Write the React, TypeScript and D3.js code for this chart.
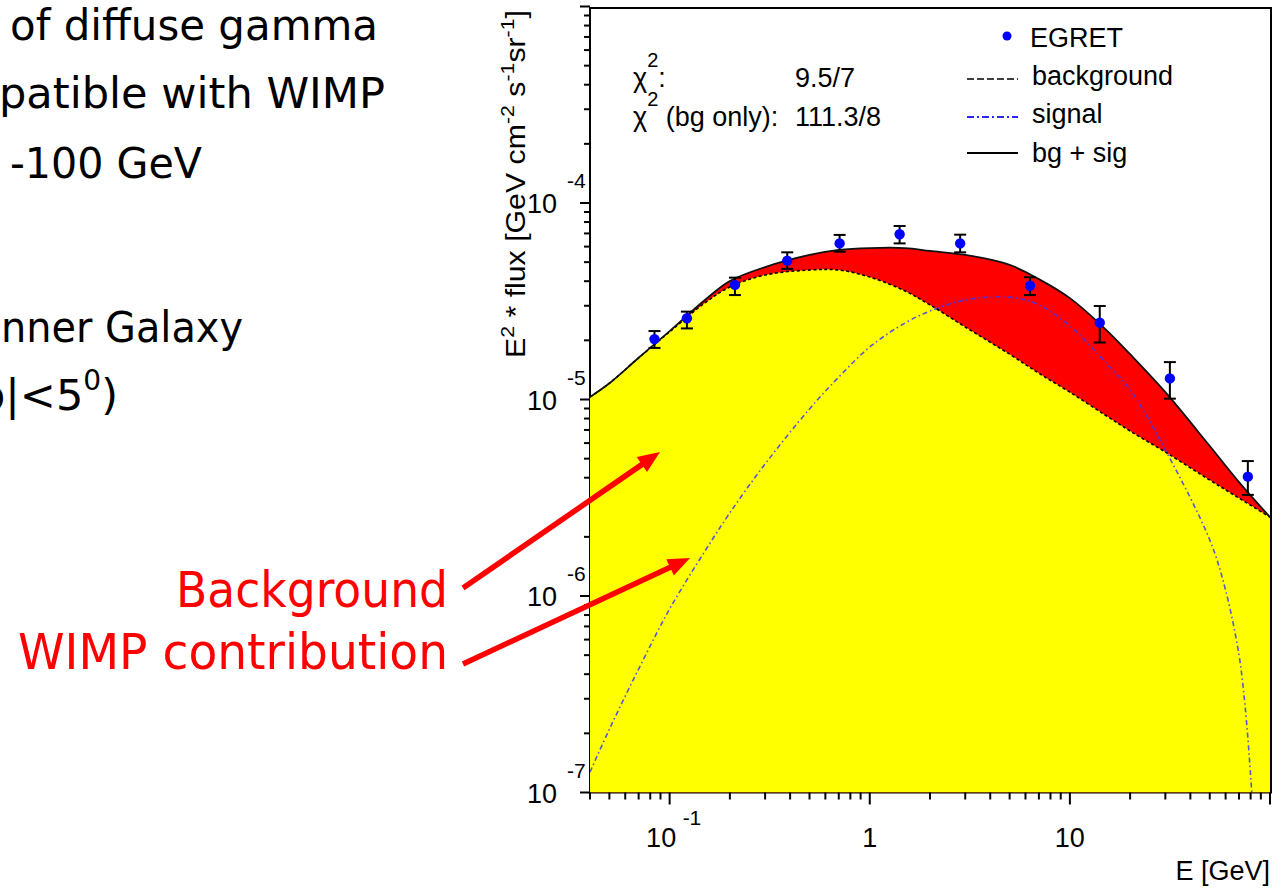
import * as d3 from "d3";
import React from "react";

const W = 1281;
const H = 888;

// EGRET points: E [GeV], E^2*flux [GeV cm^-2 s^-1 sr^-1], error bar ends
const egretE = [0.084, 0.122, 0.212, 0.387, 0.707, 1.41, 2.83, 6.32, 14.1, 31.6, 77.5];
const egretFlux = [2.03e-5, 2.59e-5, 3.83e-5, 5.09e-5, 6.23e-5, 6.93e-5, 6.23e-5, 3.79e-5, 2.46e-5, 1.28e-5, 4.05e-6];
const egretLo = [1.83e-5, 2.3e-5, 3.4e-5, 4.62e-5, 5.65e-5, 6.23e-5, 5.61e-5, 3.4e-5, 1.95e-5, 1.01e-5, 3.27e-6];
const egretHi = [2.23e-5, 2.8e-5, 4.17e-5, 5.61e-5, 6.88e-5, 7.64e-5, 6.9e-5, 4.19e-5, 2.99e-5, 1.55e-5, 4.86e-6];

// fitted curves
const curveE = [0.04, 0.05, 0.07, 0.1, 0.15, 0.2, 0.3, 0.5, 0.7, 1, 1.5, 2, 3, 5, 7, 10, 15, 20, 30, 50, 70, 100];
const background = [1.03e-5, 1.21e-5, 1.63e-5, 2.21e-5, 3.1e-5, 3.74e-5, 4.3e-5, 4.56e-5, 4.56e-5, 4.2e-5, 3.57e-5, 3.03e-5, 2.34e-5, 1.7e-5, 1.36e-5, 1.09e-5, 8.34e-6, 6.91e-6, 5.4e-6, 3.89e-6, 3.15e-6, 2.52e-6];
const bgPlusSig = [1.03e-5, 1.21e-5, 1.63e-5, 2.23e-5, 3.21e-5, 4.01e-5, 4.72e-5, 5.44e-5, 5.77e-5, 5.9e-5, 5.9e-5, 5.7e-5, 5.44e-5, 4.84e-5, 4.1e-5, 3.28e-5, 2.29e-5, 1.7e-5, 1.09e-5, 5.8e-6, 3.8e-6, 2.52e-6];
const signalE = [0.04, 0.05, 0.07, 0.1, 0.15, 0.2, 0.3, 0.5, 0.7, 1, 1.5, 2, 3, 5, 7, 10, 15, 20, 30, 50, 60, 70, 75, 80, 81.5];
const signal = [1.27e-7, 2.1e-7, 4.25e-7, 8.59e-7, 1.69e-6, 2.65e-6, 4.7e-6, 8.95e-6, 1.3e-5, 1.85e-5, 2.45e-5, 2.82e-5, 3.21e-5, 3.32e-5, 3.03e-5, 2.37e-5, 1.55e-5, 1.12e-5, 5.53e-6, 1.93e-6, 1.07e-6, 5.01e-7, 2.79e-7, 1.23e-7, 9.2e-8];

const yTickExps = [-7, -6, -5, -4];
const xTickLabels = [
  { v: 0.1, base: "10", sup: "-1" },
  { v: 1, base: "1", sup: "" },
  { v: 10, base: "10", sup: "" },
];

const slideLines = [
  { text: "of diffuse gamma", x: 10, y: 40, len: 368 },
  { text: "patible with WIMP", x: -1, y: 108, len: 386 },
  { text: "-100 GeV", x: 10, y: 178, len: 192 },
  { text: "nner Galaxy", x: 1, y: 342, len: 242 },
];

const x = d3.scaleLog().domain([0.04, 100]).range([590, 1270]);
const y = d3.scaleLog().domain([1e-7, 1e-3]).range([792.5, 6.5]);

const chartFont = "'Liberation Sans', Arial, sans-serif";
const slideFont = "Tahoma, 'DejaVu Sans', sans-serif";

function Arrow({ x1, y1, x2, y2 }: { x1: number; y1: number; x2: number; y2: number }) {
  const a = Math.atan2(y2 - y1, x2 - x1);
  const hl = 22, hw = 9;
  const bx = x2 - hl * Math.cos(a), by = y2 - hl * Math.sin(a);
  const px = -Math.sin(a) * hw, py = Math.cos(a) * hw;
  return (
    <g>
      <line x1={x1} y1={y1} x2={bx + 2 * Math.cos(a)} y2={by + 2 * Math.sin(a)} stroke="#ff0000" strokeWidth={5.5} />
      <polygon points={`${x2},${y2} ${bx + px},${by + py} ${bx - px},${by - py}`} fill="#ff0000" />
    </g>
  );
}

export default function App() {
  const yBottom = y(1e-7);
  const bgArea = d3.area<number>()
    .x((_d, i) => x(curveE[i]))
    .y0(yBottom)
    .y1((d) => y(d))
    .curve(d3.curveCatmullRom);
  const line = d3.line<number>()
    .x((_d, i) => x(curveE[i]))
    .y((d) => y(d))
    .curve(d3.curveCatmullRom);
  const sigLine = d3.line<number>()
    .x((_d, i) => x(signalE[i]))
    .y((d) => y(d))
    .curve(d3.curveCatmullRom);

  const xTicks = x.ticks();
  const yTicks = y.ticks();
  const isMajor = (v: number) => Math.abs(Math.log10(v) - Math.round(Math.log10(v))) < 1e-6;

  return (
    <svg width={W} height={H} style={{ position: "absolute", left: 0, top: 0, background: "#fff" }}>
      <defs>
        <clipPath id="plotClip">
          <rect x={590} y={8} width={682} height={yBottom - 8} />
        </clipPath>
      </defs>

      {/* slide text */}
      <g fontFamily={slideFont} fontSize={43} fill="#000">
        {slideLines.map((l) => (
          <text key={l.text} x={l.x} y={l.y} textLength={l.len} lengthAdjust="spacingAndGlyphs">{l.text}</text>
        ))}
        <text x={-22} y={410} textLength={140} lengthAdjust="spacingAndGlyphs">
          b|&lt;5<tspan fontSize={28} dy={-20}>0</tspan><tspan dy={20}>)</tspan>
        </text>
      </g>
      <g fontFamily={slideFont} fontSize={50} fill="#ff0000">
        <text x={176} y={607} textLength={272} lengthAdjust="spacingAndGlyphs">Background</text>
        <text x={18} y={669} textLength={430} lengthAdjust="spacingAndGlyphs">WIMP contribution</text>
      </g>

      {/* frame */}
      <rect x={590} y={8} width={681} height={yBottom - 8} fill="none" stroke="#000" strokeWidth={2} />

      {/* fills and curves */}
      <g clipPath="url(#plotClip)">
        <path d={bgArea(bgPlusSig) || ""} fill="#ff0000" />
        <path d={bgArea(background) || ""} fill="#ffff00" />
        <path d={sigLine(signal) || ""} fill="none" stroke="#3a3af5" strokeWidth={1.6} strokeDasharray="5 3 1.5 3" opacity={0.85} />
        <path d={line(background) || ""} fill="none" stroke="#000" strokeWidth={1.6} strokeDasharray="3 2.5" />
        <path d={line(bgPlusSig) || ""} fill="none" stroke="#111" strokeWidth={1.8} />
      </g>

      {/* data points */}
      <g>
        {egretE.map((e, i) => {
          const cx = x(e);
          return (
            <g key={i}>
              <line x1={cx} x2={cx} y1={y(egretLo[i])} y2={y(egretHi[i])} stroke="#000" strokeWidth={2} />
              <line x1={cx - 6} x2={cx + 6} y1={y(egretLo[i])} y2={y(egretLo[i])} stroke="#000" strokeWidth={2} />
              <line x1={cx - 6} x2={cx + 6} y1={y(egretHi[i])} y2={y(egretHi[i])} stroke="#000" strokeWidth={2} />
              <circle cx={cx} cy={y(egretFlux[i])} r={5.2} fill="#0000ff" />
            </g>
          );
        })}
      </g>

      {/* axis ticks */}
      <g stroke="#000" strokeWidth={2}>
        {yTicks.map((t, i) => (
          <line key={i} x1={isMajor(t) ? 580 : 584} x2={590} y1={y(t)} y2={y(t)} />
        ))}
        {xTicks.map((t, i) => (
          <line key={i} x1={x(t)} x2={x(t)} y1={yBottom} y2={yBottom + (isMajor(t) ? 12 : 7)} />
        ))}
      </g>

      <g fontFamily={chartFont} fill="#000">
        {yTickExps.map((e) => {
          const ty = y(Math.pow(10, e));
          return (
            <g key={e}>
              <text x={557} y={ty + 10} fontSize={27} textAnchor="end">10</text>
              <text x={567} y={ty - 15} fontSize={21}>{e}</text>
            </g>
          );
        })}
        {xTickLabels.map((t) => (
          <g key={t.v}>
            <text x={x(t.v) - (t.sup ? 8.5 : 0)} y={847} fontSize={27} textAnchor="middle">{t.base}</text>
            {t.sup && <text x={x(t.v) + 13} y={825} fontSize={21}>{t.sup}</text>}
          </g>
        ))}
        <text x={1270} y={880} fontSize={27} textAnchor="end">E [GeV]</text>

        <text transform="translate(525,358) rotate(-90)" fontSize={27} textLength={348} lengthAdjust="spacingAndGlyphs">
          E<tspan fontSize={19} dy={-11}>2</tspan><tspan dy={11}> * flux [GeV cm</tspan>
          <tspan fontSize={19} dy={-11}>-2</tspan><tspan dy={11}> s</tspan>
          <tspan fontSize={19} dy={-11}>-1</tspan><tspan dy={11}>sr</tspan>
          <tspan fontSize={19} dy={-11}>-1</tspan><tspan dy={11}>]</tspan>
        </text>

        {/* chi2 box */}
        <text x={633} y={87} fontSize={27}>
          χ<tspan fontSize={20} dy={-20}>2</tspan><tspan dy={20}>:</tspan>
        </text>
        <text x={795} y={87} fontSize={27}>9.5/7</text>
        <text x={633} y={126} fontSize={27}>
          χ<tspan fontSize={20} dy={-20}>2</tspan><tspan dy={20}> (bg only):</tspan>
        </text>
        <text x={795} y={126} fontSize={27}>111.3/8</text>

        {/* legend */}
        <circle cx={1007} cy={36} r={4.5} fill="#0000ff" />
        <text x={1030} y={47} fontSize={27}>EGRET</text>
        <line x1={967} x2={1018} y1={79} y2={79} stroke="#000" strokeWidth={1.6} strokeDasharray="7 3" />
        <text x={1032} y={85} fontSize={27}>background</text>
        <line x1={967} x2={1018} y1={117} y2={117} stroke="#2a2af5" strokeWidth={1.8} strokeDasharray="7 3 2 3" />
        <text x={1032} y={123} fontSize={27}>signal</text>
        <line x1={967} x2={1018} y1={153} y2={153} stroke="#000" strokeWidth={1.8} />
        <text x={1032} y={162} fontSize={27}>bg + sig</text>
      </g>

      <Arrow x1={463} y1={588} x2={660} y2={452} />
      <Arrow x1={463} y1={664} x2={690} y2={558} />
    </svg>
  );
}
